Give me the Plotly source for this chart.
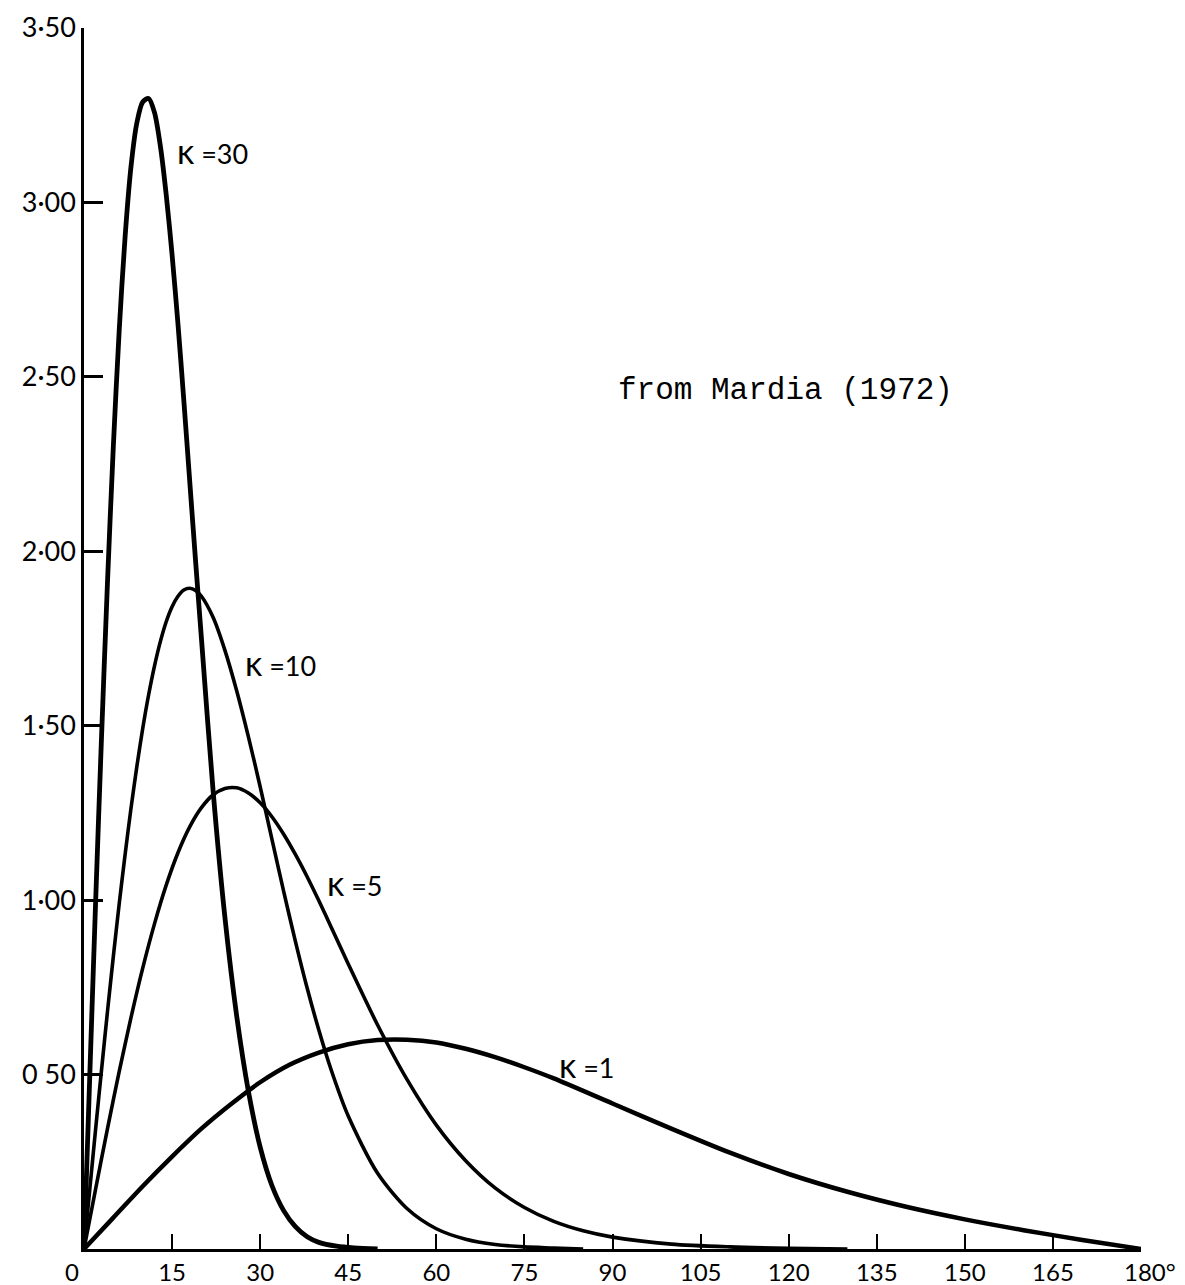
import plotly.graph_objects as go

# Fisher distribution densities of the angle from the mean direction
deg_k30 = [0, 1, 2, 3, 4, 5, 6, 7, 8, 9, 10, 11, 12, 13, 14, 15, 16, 17, 18, 19, 20,
           22, 24, 26, 28, 30, 32, 34, 36, 38, 40, 43, 46, 50]
val_k30 = [0, 0.505, 1.005, 1.475, 1.912, 2.302, 2.635, 2.902, 3.102, 3.228, 3.288,
           3.298, 3.258, 3.162, 3.022, 2.850, 2.652, 2.432, 2.202, 1.972, 1.750,
           1.310, 0.950, 0.668, 0.452, 0.292, 0.182, 0.110, 0.064, 0.035, 0.019,
           0.008, 0.003, 0]

deg_k10 = [0, 1, 2, 3, 4, 5, 6, 7, 8, 9, 10, 11, 12, 13, 14, 15, 16, 17, 18, 19, 20,
           22, 24, 26, 28, 30, 32, 34, 36, 38, 40, 42, 45, 50, 55, 60, 65, 70, 75, 80, 85]
val_k10 = [0, 0.174, 0.347, 0.516, 0.681, 0.839, 0.990, 1.131, 1.263, 1.383, 1.492,
           1.588, 1.671, 1.741, 1.798, 1.841, 1.871, 1.889, 1.894, 1.888, 1.871,
           1.810, 1.716, 1.600, 1.468, 1.325, 1.175, 1.025, 0.882, 0.748, 0.627,
           0.518, 0.381, 0.217, 0.116, 0.058, 0.028, 0.013, 0.006, 0.003, 0]

deg_k5 = [0, 2, 4, 6, 8, 10, 12, 14, 16, 18, 20, 22, 24, 26, 28, 30, 32, 34, 36, 38,
          40, 42, 45, 50, 55, 60, 65, 70, 75, 80, 85, 90, 100, 110, 120, 130]
val_k5 = [0, 0.174, 0.345, 0.509, 0.663, 0.805, 0.932, 1.043, 1.136, 1.210, 1.265,
          1.302, 1.320, 1.322, 1.307, 1.279, 1.239, 1.189, 1.131, 1.067, 0.998,
          0.926, 0.817, 0.642, 0.486, 0.355, 0.253, 0.175, 0.119, 0.079, 0.052,
          0.034, 0.014, 0.006, 0.002, 0]

deg_k1 = [0, 5, 10, 15, 20, 25, 30, 35, 40, 45, 50, 55, 60, 65, 70, 75, 80, 90, 100,
          110, 120, 130, 140, 150, 160, 170, 180]
val_k1 = [0, 0.09, 0.18, 0.265, 0.345, 0.415, 0.478, 0.528, 0.563, 0.587, 0.599,
          0.600, 0.592, 0.574, 0.550, 0.521, 0.489, 0.417, 0.345, 0.276, 0.215,
          0.164, 0.121, 0.085, 0.054, 0.026, 0]

x_ticks = [15, 30, 45, 60, 75, 90, 105, 120, 135, 150, 165, 180]
x_tick_text = ["15", "30", "45", "60", "75", "90", "105", "120", "135", "150", "165", ""]
y_ticks = [0.5, 1.0, 1.5, 2.0, 2.5, 3.0, 3.5]
y_tick_text = ["0 50", "1·00", "1·50", "2·00", "2·50", "3·00", "3·50"]

curves = [
    (deg_k30, val_k30, 4.8),
    (deg_k10, val_k10, 3.6),
    (deg_k5, val_k5, 3.6),
    (deg_k1, val_k1, 4.5),
]

fig = go.Figure()
for xs, ys, w in curves:
    fig.add_trace(go.Scatter(
        x=xs, y=ys, mode="lines",
        line=dict(color="black", width=w, shape="spline", smoothing=0.8),
        showlegend=False, hoverinfo="skip",
    ))

label_font = dict(family="Lato, DejaVu Sans, sans-serif", size=27, color="black")
axis_font = dict(family="Lato, DejaVu Sans, sans-serif", size=24, color="black")
kappa = '<span style="font-size:34px">κ</span>'
curve_labels = [
    (kappa + " =30", 15.5, 3.15),
    (kappa + " =10", 27.0, 1.68),
    (kappa + " =5", 41.0, 1.05),
    (kappa + " =1", 80.6, 0.53),
]
for text, x, y in curve_labels:
    fig.add_annotation(x=x, y=y, text=text, showarrow=False, xanchor="left",
                       yanchor="middle", font=label_font)

fig.add_annotation(x=90.6, y=2.46, text="from Mardia (1972)", showarrow=False,
                   xanchor="left", yanchor="middle",
                   font=dict(family="Liberation Mono, Courier New, monospace",
                             size=31, color="black"))

# corner and end labels of the angle axis
fig.add_annotation(x=0, y=0, text="0", showarrow=False, xanchor="center",
                   yanchor="top", xshift=-12, yshift=-6, font=axis_font)
fig.add_annotation(x=180, y=0, text="180°", showarrow=False, xanchor="left",
                   yanchor="top", xshift=-19, yshift=-6, font=axis_font)

fig.update_xaxes(
    range=[0, 180], showgrid=False, zeroline=False, automargin=False,
    showline=True, linecolor="black", linewidth=3,
    tickmode="array", tickvals=x_ticks, ticktext=x_tick_text,
    ticks="inside", ticklen=15, tickwidth=1.5, tickcolor="black",
    tickfont=axis_font,
)
fig.update_yaxes(
    range=[0, 3.5], showgrid=False, zeroline=False, automargin=False,
    showline=True, linecolor="black", linewidth=2.5,
    tickmode="array", tickvals=y_ticks, ticktext=y_tick_text,
    ticks="inside", ticklen=19, tickwidth=2.5, tickcolor="black",
    tickfont=label_font,
)

fig.update_layout(
    width=1185, height=1285,
    margin=dict(l=84, r=44, t=28, b=36, autoexpand=False),
    paper_bgcolor="white", plot_bgcolor="white",
)

fig.write_html("out.html")
